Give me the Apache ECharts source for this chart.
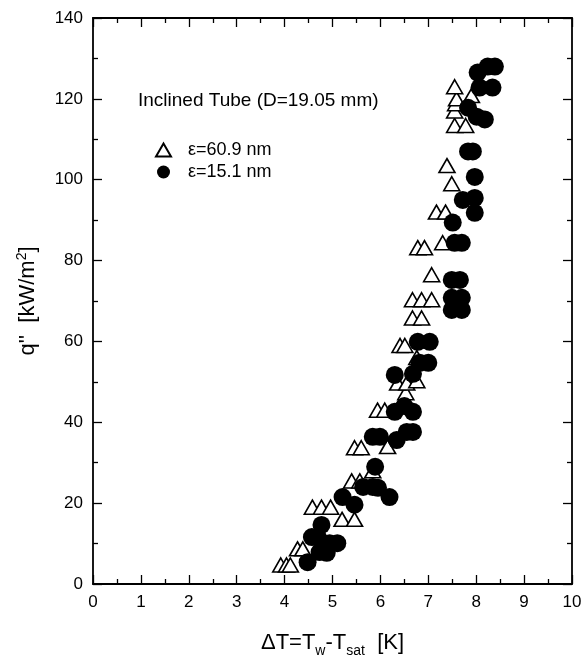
<!DOCTYPE html>
<html>
<head>
<meta charset="utf-8">
<script src="https://cdn.jsdelivr.net/npm/echarts@6/dist/echarts.min.js"></script>
<style>
  html, body { margin: 0; padding: 0; background: #fff; }
  #chart { width: 582px; height: 661px; }
</style>
</head>
<body>
<div id="chart"></div>
<script>
// ε=60.9 nm (open triangles) [ΔT, q'']
var rough609 = [
  [3.92, 4.7], [4.04, 4.7], [4.12, 4.7],
  [4.27, 8.7], [4.38, 8.7],
  [4.58, 19], [4.77, 19], [4.96, 19],
  [5.2, 16], [5.46, 16],
  [5.4, 25.5], [5.57, 25.5],
  [5.84, 28],
  [5.46, 33.7], [5.6, 33.7], [6.15, 34],
  [5.94, 43], [6.09, 43],
  [6.53, 47.3],
  [6.36, 49.7], [6.55, 49.7], [6.76, 50.3],
  [6.76, 56],
  [6.41, 59], [6.51, 59],
  [6.67, 65.8], [6.86, 65.8],
  [6.67, 70.3], [6.86, 70.3], [7.07, 70.3],
  [7.07, 76.5],
  [6.78, 83.2], [6.92, 83.2], [7.3, 84.4],
  [7.17, 92], [7.36, 92],
  [7.49, 99],
  [7.39, 103.5],
  [7.55, 113.4], [7.78, 113.4],
  [7.55, 117], [7.57, 118.8], [7.59, 120], [7.9, 120.8],
  [7.55, 123]
];
// ε=15.1 nm (filled circles)
var rough151 = [
  [4.48, 5.4],
  [4.73, 7.9], [4.88, 7.7],
  [4.57, 11.6], [4.69, 11.6], [4.94, 10.1], [5.1, 10.1],
  [4.77, 14.6],
  [5.21, 21.5], [5.46, 19.6],
  [5.64, 24], [5.84, 24], [5.95, 23.8], [6.19, 21.5],
  [5.89, 29],
  [5.84, 36.4], [5.99, 36.4],
  [6.34, 35.6], [6.55, 37.6], [6.68, 37.6],
  [6.3, 42.6], [6.5, 44], [6.68, 42.6],
  [6.3, 51.7], [6.68, 52],
  [6.82, 54.7], [7.0, 54.7],
  [6.78, 59.9], [7.03, 59.9],
  [7.49, 67.8], [7.7, 67.8], [7.49, 70.8], [7.7, 70.8],
  [7.49, 75.2], [7.66, 75.2],
  [7.55, 84.4], [7.7, 84.4],
  [7.51, 89.4],
  [7.97, 91.8], [7.72, 95], [7.97, 95.5],
  [7.97, 100.7],
  [7.83, 107], [7.93, 107],
  [8.18, 114.9], [8.01, 115.6], [7.83, 117.8],
  [8.07, 122.8], [8.34, 122.8],
  [8.03, 126.5], [8.24, 128], [8.39, 128]
];

var font = "Liberation Sans, Arial, sans-serif";
var black = "#000";

// shared look of the four box axes
function boxAxis(extra) {
  var base = {
    type: "value",
    axisLine: { show: true, onZero: false, lineStyle: { color: black, width: 1.8 } },
    axisTick: { show: true, inside: true, length: 9, lineStyle: { color: black, width: 1.3 } },
    minorTick: { show: true, splitNumber: 2, length: 5, lineStyle: { color: black, width: 1.3 } },
    splitLine: { show: false },
    axisLabel: { show: false }
  };
  return Object.assign(base, extra);
}

var chart = echarts.init(document.getElementById("chart"));

chart.setOption({
  animation: false,
  backgroundColor: "#fff",
  title: {
    text: "Inclined Tube (D=19.05 mm)",
    left: 138,
    top: 91,
    padding: 0,
    textStyle: { fontFamily: font, fontSize: 19, fontWeight: "normal", color: black }
  },
  legend: {
    orient: "vertical",
    left: 155,
    top: 141,
    padding: 0,
    itemGap: 4,
    itemWidth: 15,
    itemHeight: 13,
    textStyle: { fontFamily: font, fontSize: 18, color: black, padding: [0, 0, 0, 12] },
    data: [
      { name: "ε=60.9 nm", icon: "triangle" },
      { name: "ε=15.1 nm", icon: "circle" }
    ]
  },
  grid: { left: 93, right: 10, top: 18, bottom: 77, containLabel: false, outerBoundsMode: "none" },
  xAxis: [
    boxAxis({
      min: 0, max: 10, interval: 1,
      name: "ΔT=T{sub|w}-T{sub|sat}  [K]",
      nameLocation: "middle",
      nameGap: 44,
      nameTextStyle: {
        fontFamily: font, fontSize: 22, color: black,
        rich: { sub: { fontFamily: font, fontSize: 14, verticalAlign: "bottom", padding: [16, 0, 0, 0], color: black } }
      },
      axisLabel: { show: true, fontFamily: font, fontSize: 17, color: black, margin: 10 }
    }),
    boxAxis({ min: 0, max: 10, interval: 1, position: "top" })
  ],
  yAxis: [
    boxAxis({
      min: 0, max: 140, interval: 20,
      name: "q''  [kW/m{sup|2}]",
      nameLocation: "middle",
      nameRotate: 90,
      nameGap: 52,
      nameTextStyle: {
        fontFamily: font, fontSize: 22, color: black,
        rich: { sup: { fontFamily: font, fontSize: 14, verticalAlign: "top", padding: [0, 0, 12, 0], color: black } }
      },
      axisLabel: { show: true, fontFamily: font, fontSize: 17, color: black, margin: 10 }
    }),
    boxAxis({ min: 0, max: 140, interval: 20, position: "right" })
  ],
  series: [
    {
      name: "ε=60.9 nm",
      type: "scatter",
      data: rough609,
      symbol: "triangle",
      symbolSize: [16, 14],
      itemStyle: { color: "#fff", borderColor: black, borderWidth: 1.6, opacity: 1 },
      z: 2
    },
    {
      name: "ε=15.1 nm",
      type: "scatter",
      data: rough151,
      symbol: "circle",
      symbolSize: 18,
      itemStyle: { color: black, opacity: 1 },
      z: 3
    }
  ]
});
</script>
</body>
</html>
